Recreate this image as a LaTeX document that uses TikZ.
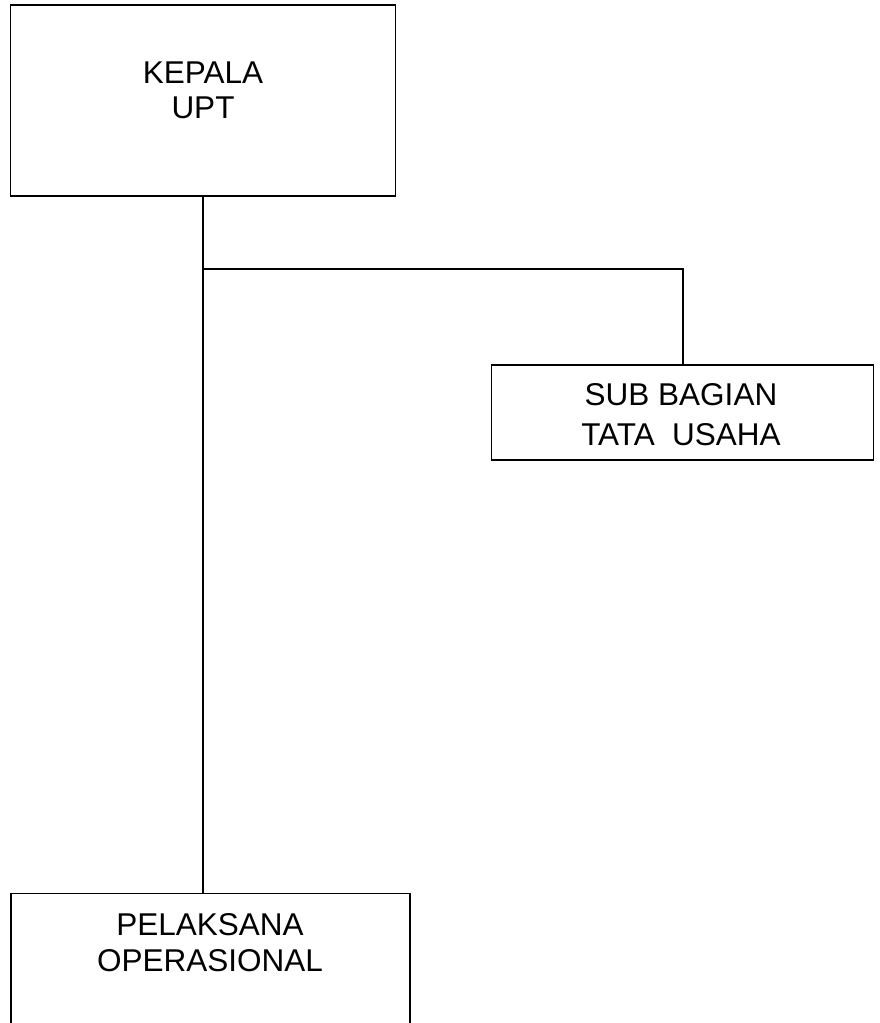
\documentclass[tikz,border=0pt]{standalone}
\usepackage{fontspec}
\setmainfont{Liberation Sans}
\begin{document}
\begin{tikzpicture}[x=1pt,y=-1pt,
  box/.style={draw=black, line width=1.7pt, fill=white, inner sep=0pt},
  txt/.style={anchor=base, inner sep=0pt, font=\fontsize{31.5}{36}\selectfont},
  conn/.style={draw=black, line width=1.7pt}]
\useasboundingbox (0,0) rectangle (880,1023);
\begin{scope}
\clip (0,0) rectangle (880,1023);
% boxes
\node[box, minimum width=385pt, minimum height=191pt] (kepala) at (203,100.5) {};
\node[box, minimum width=382pt, minimum height=95pt] (sub) at (682.5,412.5) {};
\node[box, minimum width=399pt, minimum height=160pt] (pelaksana) at (210.5,973.5) {};
% junction
\coordinate (j1) at (203,269);
\coordinate (j2) at (683,269);
% connectors
\draw[conn] (kepala.south) -- (j1) -- (pelaksana.north -| j1);
\draw[conn] (j1) -- (j2) -- (sub.north -| j2);
% texts
\node[txt] (t1) at (203,83.5) {KEPALA};
\node[txt] (t2) at (203,118.5) {UPT};
\node[txt] (t3) at (681,405) {SUB BAGIAN};
\node[txt] (t4) at (681,445) {TATA\hspace{8.6pt} USAHA};
\node[txt] (t5) at (210,935) {PELAKSANA};
\node[txt] (t6) at (210,971.5) {OPERASIONAL};
\end{scope}
\end{tikzpicture}
\end{document}
